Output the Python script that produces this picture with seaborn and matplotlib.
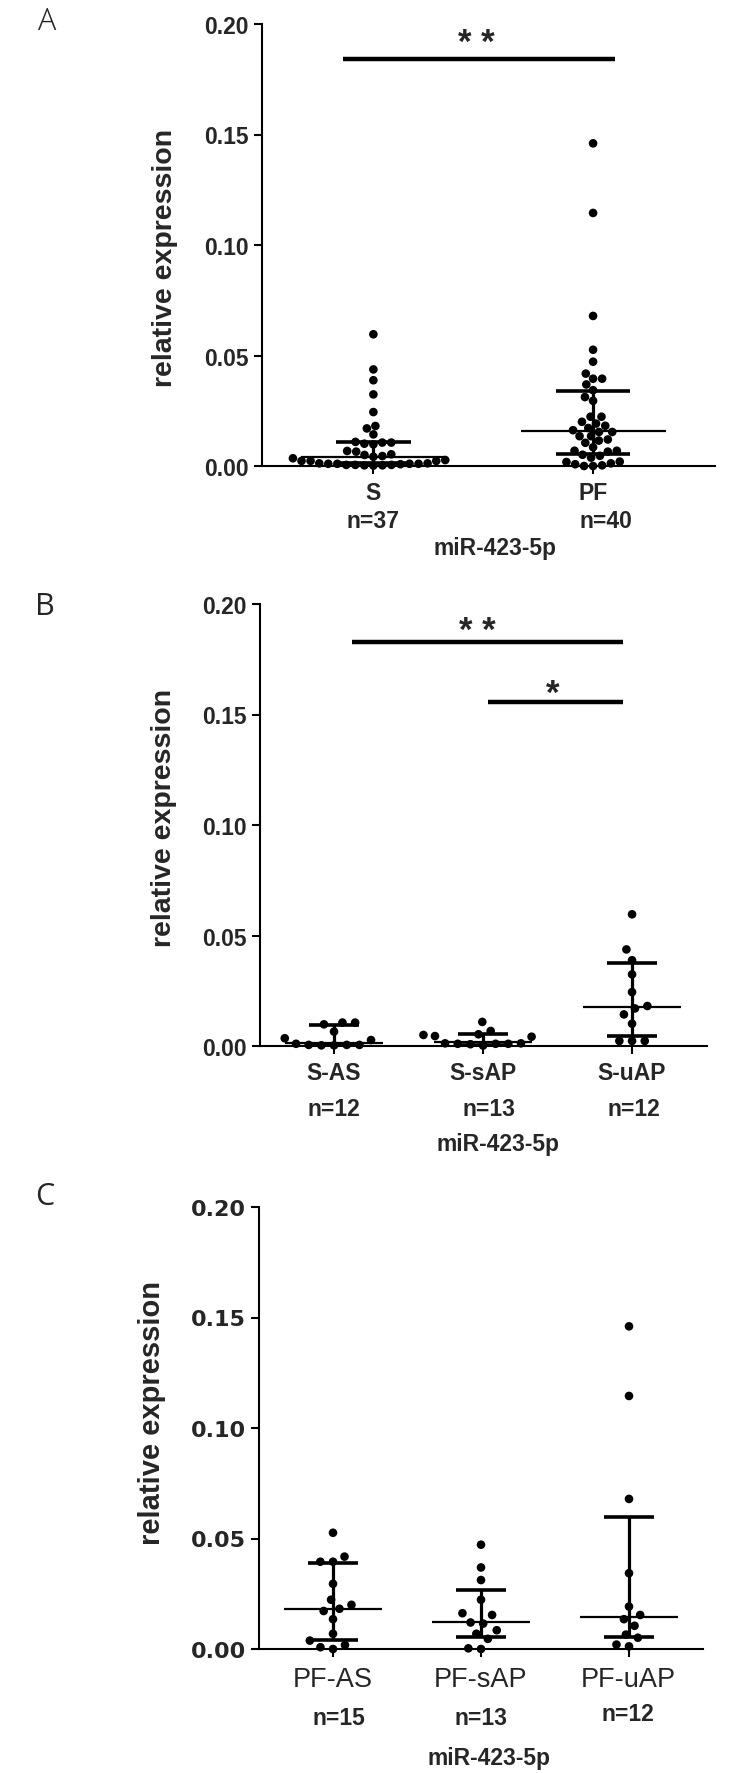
import matplotlib
matplotlib.use("Agg")
import matplotlib.pyplot as plt
import numpy as np
import pandas as pd
import seaborn as sns

# relative expression of miR-423-5p
# serum subgroups (panel B)
s_as = [0.0106, 0.0098, 0.0106, 0.0065, 0.0027, 0.0035, 0.0005, 0.0003, 0.0005, 0.0003, 0.0005, 0.0010]
s_sap = [0.0109, 0.0068, 0.0053, 0.0045, 0.0042, 0.0050, 0.0012, 0.0010, 0.0008, 0.0010, 0.0012, 0.0010, 0.0002]
s_uap = [0.0596, 0.0437, 0.0388, 0.0324, 0.0244, 0.0170, 0.0181, 0.0143, 0.0101, 0.0023, 0.0023, 0.0023]
# peritoneal fluid subgroups (panel C)
pf_as = [0.0526, 0.0418, 0.0395, 0.0395, 0.0295, 0.0223, 0.0182, 0.0200, 0.0172, 0.0135, 0.0069, 0.0038, 0.0018, 0.0000, 0.0008]
pf_sap = [0.0472, 0.0369, 0.0312, 0.0223, 0.0154, 0.0162, 0.0120, 0.0115, 0.0085, 0.0069, 0.0046, 0.0000, 0.0003]
pf_uap = [0.1460, 0.1145, 0.0679, 0.0343, 0.0192, 0.0135, 0.0154, 0.0105, 0.0051, 0.0065, 0.0012, 0.0020]

a_groups = ["S", "PF"]
b_groups = ["S-AS", "S-sAP", "S-uAP"]
c_groups = ["PF-AS", "PF-sAP", "PF-uAP"]
a_n = ["n=37", "n=40"]
b_n = ["n=12", "n=13", "n=12"]
c_n = ["n=15", "n=13", "n=12"]

# median and interquartile range as drawn
a_med = [0.0042, 0.0157]
a_q1 = [0.0015, 0.0056]
a_q3 = [0.0108, 0.0339]
b_med = [0.0015, 0.0016, 0.0178]
b_q1 = [0.0003, 0.0005, 0.0045]
b_q3 = [0.0096, 0.0055, 0.0374]
c_med = [0.0182, 0.0120, 0.0143]
c_q1 = [0.0042, 0.0054, 0.0054]
c_q3 = [0.0390, 0.0266, 0.0597]

# significance bars: start, end, height, label, label x, label baseline
a_sig = [(-0.14, 1.10, 0.184, "* *", 0.47, 0.1875)]
b_sig = [(0.12, 1.94, 0.183, "* *", 0.96, 0.1835),
         (1.03, 1.94, 0.1556, "*", 1.47, 0.1552)]

ticks = [0, 0.05, 0.10, 0.15, 0.20]
tick_labels = ["0.00", "0.05", "0.10", "0.15", "0.20"]

sns.set_style("ticks")
plt.rcParams["font.family"] = ["Liberation Sans", "DejaVu Sans"]

W, H = 744, 1774
fig = plt.figure(figsize=(W / 100, H / 100), dpi=100)


def px_axes(left, right, top, bottom):
    return fig.add_axes([left / W, 1 - bottom / H, (right - left) / W, (bottom - top) / H])


def ftext(x, y, s, **kw):
    fig.text(x / W, 1 - y / H, s, ha="center", **kw)


def panel(ax, groups, order, med, q1, q3, xlim, tfont, gap):
    df = pd.DataFrame({"group": np.repeat(order, [len(g) for g in groups]),
                       "value": np.concatenate(groups)})
    # the invisible edge only widens the swarm spacing
    sns.swarmplot(data=df, x="group", y="value", order=order, color="black",
                  size=6.2, linewidth=gap, edgecolor="none", ax=ax, zorder=3)
    for c in ax.collections:
        c.set_clip_on(False)
    pos = np.arange(len(order))
    ax.hlines(med, pos - 0.33, pos + 0.33, color="black", lw=1.6, zorder=4)
    ax.hlines(q1, pos - 0.17, pos + 0.17, color="black", lw=2.6, zorder=4)
    ax.hlines(q3, pos - 0.17, pos + 0.17, color="black", lw=2.6, zorder=4)
    ax.vlines(pos, q1, q3, color="black", lw=2.3, zorder=4)
    ax.set_xlim(*xlim)
    ax.set_ylim(0, 0.2)
    ax.set_yticks(ticks)
    ax.set_yticklabels(tick_labels, fontweight="bold", **tfont)
    ax.set_xticks(pos)
    ax.set_xticklabels([])
    ax.set_xlabel("")
    ax.set_ylabel("")
    sns.despine(ax=ax)
    for sp in ["left", "bottom"]:
        ax.spines[sp].set_linewidth(1.5)
        ax.spines[sp].set_color("black")
    ax.tick_params(axis="both", length=5.5, width=1.5, color="black", pad=4)


def sig(ax, bars):
    for x0, x1, y, lab, lx, ly in bars:
        ax.hlines(y, x0, x1, color="black", lw=3.2)
        ax.text(lx, ly, lab, ha="center", va="baseline", fontsize=25, fontweight="bold")


# panel A: all serum vs all peritoneal fluid
axA = px_axes(262, 715, 25, 467)
panel(axA, [s_as + s_sap + s_uap, pf_as + pf_sap + pf_uap], a_groups,
      a_med, a_q1, a_q3, (-0.507, 1.555), {"fontsize": 16.5}, 0)
sig(axA, a_sig)

axB = px_axes(260, 707, 605, 1047)
panel(axB, [s_as, s_sap, s_uap], b_groups, b_med, b_q1, b_q3, (-0.497, 2.503),
      {"fontsize": 16.5}, 2.5)
sig(axB, b_sig)

axC = px_axes(259, 703, 1208, 1650)
panel(axC, [pf_as, pf_sap, pf_uap], c_groups, c_med, c_q1, c_q3, (-0.5, 2.5),
      {"fontsize": 16, "family": ["DejaVu Sans"]}, 2.5)

# category labels, group sizes, x titles
for x, g, n, nx in zip([373, 593], a_groups, a_n, [373, 606]):
    ftext(x, 500, g, fontsize=16.5, fontweight="bold")
    ftext(nx, 528, n, fontsize=16.5, fontweight="bold")
ftext(495, 555, "miR-423-5p", fontsize=16.5, fontweight="bold")

for x, g, n, nx in zip([334, 483, 632], b_groups, b_n, [334, 489, 634]):
    ftext(x, 1080, g, fontsize=16.5, fontweight="bold")
    ftext(nx, 1116, n, fontsize=16.5, fontweight="bold")
ftext(498, 1151, "miR-423-5p", fontsize=16.5, fontweight="bold")

for x, g, n, nx, ny in zip([333, 481, 628], c_groups, c_n, [339, 481, 628], [1725, 1725, 1721]):
    ftext(x, 1687, g, fontsize=19.5)
    ftext(nx, ny, n, fontsize=16.5, fontweight="bold")
ftext(489, 1765, "miR-423-5p", fontsize=16.5, fontweight="bold")

# y titles
for x, y, fs in [(165, 258, 20.5), (164, 818, 20.5), (152, 1413, 21)]:
    fig.text(x / W, 1 - y / H, "relative expression", rotation=90, ha="center",
             va="center", fontsize=fs, fontweight="bold")

# panel letters
for x, y, s, wt in [(47, 22, "A", "light"), (45, 607, "B", "normal"), (45, 1197, "C", "normal")]:
    fig.text(x / W, 1 - y / H, s, ha="center", va="center", fontsize=22,
             family=["Open Sans", "DejaVu Sans"], fontweight=wt)

fig.savefig("out.png", dpi=100, facecolor="white")
